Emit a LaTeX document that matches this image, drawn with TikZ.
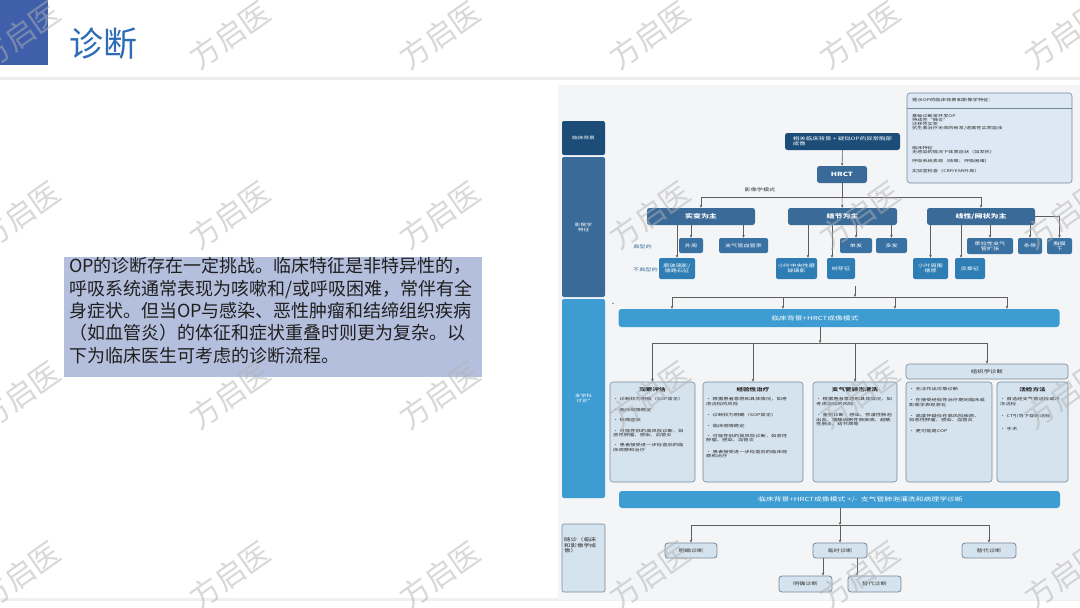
\documentclass[tikz,border=0pt]{standalone}
\usepackage{fontspec}
\setmainfont{Noto Sans CJK SC}
\newfontfamily\chartfont[FakeStretch=1.4]{Noto Sans CJK SC}
\usetikzlibrary{positioning,arrows.meta}

\definecolor{navy}{HTML}{1C4D78}
\definecolor{midblue}{HTML}{3A6B98}
\definecolor{kidblue}{HTML}{3A71A3}
\definecolor{atblue}{HTML}{2E7DB4}
\definecolor{skyblue}{HTML}{3D9CD2}
\definecolor{paleblue}{HTML}{D5E3EE}
\definecolor{infoblue}{HTML}{DCE9F4}
\definecolor{edgegray}{HTML}{76889A}
\definecolor{linegray}{HTML}{5E5E5E}
\definecolor{chartbg}{HTML}{F4F5F7}
\definecolor{notebg}{HTML}{B4BFDD}
\definecolor{titleblue}{HTML}{2E6DB5}
\definecolor{barblue}{HTML}{3F5FAA}
\definecolor{labelblue}{HTML}{3C6E9E}

\newcommand{\setfs}[2]{\fontsize{#1}{#2}\selectfont}

\begin{document}
\begin{tikzpicture}[
    x=1pt, y=-1pt,
    side/.style={rounded corners=2pt, minimum width=43, inner sep=1pt, text=white, align=center, font=\chartfont\setfs{4.1}{5}},
    head/.style={rounded corners=2.5pt, fill=midblue, text=white, inner sep=1pt, align=center, font=\chartfont\bfseries\setfs{5.7}{6.5}},
    kid/.style={rounded corners=2pt, fill=kidblue, text=white, inner sep=0.5pt, align=center, font=\chartfont\setfs{4.4}{5.2}},
    odd/.style={kid, fill=atblue},
    wide/.style={rounded corners=3pt, fill=skyblue, minimum width=441, minimum height=18, inner sep=0pt},
    card/.style={rounded corners=3pt, fill=paleblue, draw=edgegray, line width=0.6pt, inner sep=0pt},
    outc/.style={card, line width=0.8pt, text=black!80, font=\chartfont\setfs{4.4}{5}},
    ctitle/.style={font=\chartfont\bfseries\setfs{4.7}{5}, text=black!85, inner sep=0pt},
    bul/.style={font=\chartfont\setfs{3.8}{4.4}, text=black!85, align=left, anchor=north west, inner sep=0pt},
    tag/.style={font=\chartfont\setfs{4.4}{5}, text=labelblue, inner sep=0pt},
    arr/.style={-{Stealth[length=3pt,width=2.6pt]}, draw=linegray, line width=0.6pt},
    ln/.style={draw=linegray, line width=0.6pt},
    wmark/.style={rotate=35, text=black!30, opacity=0.5, font=\setfs{30}{30}}
]

  % --- SLIDE FRAME ---
  \fill[white] (0,0) rectangle (1080,608);
  \useasboundingbox (0,0) rectangle (1080,608);
  \fill[barblue] (0,0) rectangle (48,65);
  \fill[black!7] (0,77) rectangle (1080,80);
  \fill[black!6] (0,598) rectangle (1080,601);
  \node[font=\setfs{34}{34}, text=titleblue, anchor=west, inner sep=0pt] (ttl) at (69,44) {诊断};

  % --- NOTE ---
  \node[fill=notebg, minimum width=418, minimum height=120, inner sep=0pt] (note) at (273,317) {};
  \node[anchor=north west, align=left, inner sep=0pt, font=\setfs{18}{22.3}, text=black!88] (notetxt) at (69,257.5)
    {OP的诊断存在一定挑战。临床特征是非特异性的，\\呼吸系统通常表现为咳嗽和/或呼吸困难，常伴有全\\身症状。但当OP与感染、恶性肿瘤和结缔组织疾病\\（如血管炎）的体征和症状重叠时则更为复杂。以\\下为临床医生可考虑的诊断流程。};

  % --- CHART ---
  \fill[chartbg] (558,85) rectangle (1080,600);

  % side column
  \node[side, fill=navy, minimum height=34] (s1) at (583.5,138) {临床背景};
  \node[side, fill=midblue, minimum height=140] (s2) at (583.5,227) {影像学\\特征};
  \node[side, fill=skyblue, minimum height=199] (s3) at (583.5,398.5) {多学科\\讨论*};
  \node[side, fill=paleblue, draw=edgegray, line width=0.6pt, minimum height=68] (s4) at (583.5,558) {};
  \node[bul, font=\chartfont\setfs{4.6}{5.6}] (s4t) at (564,537.5) {随诊（临床\\和影像学成\\像）};

  % clinical context
  \node[rounded corners=2.5pt, fill=navy, text=white, minimum width=115, minimum height=17, inner sep=0pt, align=left, font=\chartfont\setfs{4.6}{5.4}] (bg) at (842.5,141.5) {相关临床背景 + 疑似OP的异常胸部\\成像};
  \node[head, minimum width=50, minimum height=17] (hrct) at (842,174.5) {HRCT};
  \draw[arr] (bg) -- (hrct);

  \node[card, fill=infoblue, minimum width=165, minimum height=90] (info) at (989.5,138) {};
  \coordinate (sep) at (0,108);
  \draw[edgegray, line width=0.5pt] (info.west |- sep) -- (info.east |- sep);
  \node[bul, font=\chartfont\setfs{3.8}{4.4}] (infohd) at (912,98.5) {提示OP的临床背景和影像学特征：};
  \node[bul, font=\chartfont\setfs{3.7}{4.1}] (infotx) at (912,114)
    {基础诊断常并发OP\\持续性“肺炎”\\迁移性实变\\抗生素治疗无效的新发/进展性实质混浊\\[15.5pt]
     临床特征\\无感染的情况下体质症状（如发热）\\[5.5pt]
     呼吸系统表现（咳嗽、呼吸困难）\\[5.5pt]
     实验室检查（CRP/ESR升高）};

  % imaging patterns
  \coordinate (j1) at (842,197);
  \node[head, minimum width=108, minimum height=17] (m1) at (701,216.5) {实变为主};
  \node[head, minimum width=109, minimum height=17] (m2) at (842.5,216.5) {结节为主};
  \node[head, minimum width=108, minimum height=17] (m3) at (981,216.5) {线性/网状为主};
  \node[tag, text=black!80] (modelbl) at (760,190) {影像学模式};
  \draw[ln] (hrct) -- (j1);
  \draw[arr] (j1) -| (m1);
  \draw[arr] (j1) -| (m3);
  \draw[arr] (j1) -- (m2);

  \node[tag, anchor=east] (typ) at (652,247) {典型的};
  \node[tag, anchor=east] (atyp) at (658,270) {不典型的};

  \node[kid, minimum width=24, minimum height=15] (c11) at (691,245.5) {外周};
  \node[kid, minimum width=49, minimum height=15] (c12) at (743.5,245.5) {支气管血管束};
  \node[odd, minimum width=36, minimum height=21] (a11) at (677,268.5) {磨玻璃影/\\铺路石征};
  \node[odd, minimum width=41, minimum height=21] (a21) at (796.5,268.5) {小叶中央性磨\\玻璃影};
  \node[odd, minimum width=28, minimum height=21] (a22) at (841,268.5) {树芽征};
  \node[kid, minimum width=32, minimum height=15] (c21) at (856,245.5) {单发};
  \node[kid, minimum width=31, minimum height=15] (c22) at (891.5,245.5) {多发};
  \node[odd, minimum width=35, minimum height=21] (a31) at (930.5,268.5) {小叶周围\\增厚};
  \node[odd, minimum width=30, minimum height=21] (a32) at (970,268.5) {反晕征};
  \node[kid, minimum width=46, minimum height=16] (c31) at (990,246) {牵拉性支气\\管扩张};
  \node[kid, minimum width=24, minimum height=16] (c32) at (1030,246) {条带};
  \node[kid, minimum width=25, minimum height=16] (c33) at (1059.5,246) {胸膜\\下};

  \draw[arr] (a11.north |- m1.south) -- (a11);
  \draw[arr] (c11.north |- m1.south) -- (c11);
  \draw[arr] (c12.north |- m1.south) -- (c12);
  \draw[arr] ([xshift=11.5]a21.north |- m2.south) -- ([xshift=11.5]a21.north);
  \draw[arr] ([xshift=-9]a22.north |- m2.south) -- ([xshift=-9]a22.north);
  \draw[arr] (c21.north |- m2.south) -- (c21);
  \draw[arr] (c22.north |- m2.south) -- (c22);
  \draw[arr] (a31.north |- m3.south) -- (a31);
  \draw[arr] ([xshift=-9]a32.north |- m3.south) -- ([xshift=-9]a32.north);
  \draw[arr] (c31.north |- m3.south) -- (c31);
  \draw[arr] (c32.north |- m3.south) -- (c32);
  \draw[arr] (m3.east) -| (c33);

  % multidisciplinary discussion
  \node[wide, label={[text=white, font=\chartfont\setfs{5.6}{6}, xshift=-24]center:临床背景+HRCT成像模式}] (b1) at (839,318) {};
  \node[tag, text=black!70] (ast) at (613,305) {*};
  \coordinate (j2top) at (855,286);
  \coordinate (j2) at (855,297);
  \draw[arr] (j2top) -- (j2);
  \foreach \k/\ax in {k1/672,k2/783,k3/895,k4/1007} {
    \coordinate (\k) at (\ax,297);
    \draw[arr] (\k) -- (\k |- b1.north);
  }
  \draw[ln] (k1) -- (k4);

  \coordinate (j3) at (820,343);
  \draw[arr] (b1.south -| j3) -- (j3);

  \node[card, minimum width=85, minimum height=100] (d1) at (652.5,432) {};
  \node[card, minimum width=100, minimum height=100] (d2) at (753,432) {};
  \node[card, minimum width=84, minimum height=100] (d3) at (855,432) {};
  \node[card, minimum width=162, minimum height=15, font=\chartfont\setfs{4.6}{5}, text=black!85] (h0) at (987,371.5) {组织学诊断};
  \node[card, minimum width=86, minimum height=100] (d4) at (949,432) {};
  \node[card, minimum width=71, minimum height=100] (d5) at (1032.5,432) {};

  \draw[ln] (d1.north |- j3) -- (h0.north |- j3);
  \draw[arr] (d1.north |- j3) -- (d1);
  \draw[arr] (d2.north |- j3) -- (d2);
  \draw[arr] (d3.north |- j3) -- (d3);
  \draw[arr] (h0.north |- j3) -- (h0);

  \node[ctitle] (d1h) at ([yshift=-8]d1.north) {观察评估};
  \node[bul] (d1t) at (613,397.5)
    {• 诊断较为明确（SOP常见）\\[6pt]
     • 临床病情稳定\\[6pt]
     • 轻微症状\\[6pt]
     • 可能性低的高风险诊断，如\\恶性肿瘤、感染、血管炎\\[6pt]
     • 患者接受进一步检查后的临\\床观察和治疗};

  \node[ctitle] (d2h) at ([yshift=-8]d2.north) {经验性治疗};
  \node[bul] (d2t) at (706,397.5)
    {• 根据患者意愿和具体情况，如考\\虑活检的风险\\[7pt]
     • 诊断较为明确（SOP常见）\\[6pt]
     • 临床病情稳定\\[6pt]
     • 可能性低的高风险诊断，如恶性\\肿瘤、感染、血管炎\\[7pt]
     • 患者接受进一步检查后的临床观\\察和治疗};

  \node[ctitle] (d3h) at ([yshift=-8]d3.north) {支气管肺泡灌洗};
  \node[bul] (d3t) at (816,397.5)
    {• 根据患者意愿和具体情况，如\\考虑活检的风险\\[7pt]
     • 鉴别诊断：感染、弥漫性肺泡\\出血、嗜酸细胞性肺疾病、超敏\\性肺炎、结节病等};

  \node[bul] (d4t) at (909,387.5)
    {• 无法作出可靠诊断\\[6.5pt]
     • 在接受经验性治疗期间临床或\\影像学表现恶化\\[6.5pt]
     • 高度怀疑存在高风险疾病，\\如恶性肿瘤、感染、血管炎\\[6.5pt]
     • 更可能是COP};

  \node[ctitle] (d5h) at ([yshift=-8]d5.north) {活检方法};
  \node[bul] (d5t) at (1000,397.5)
    {• 首选经支气管活检或冷\\冻活检\\[8pt]
     • CT引导下穿刺活检\\[8pt]
     • 手术};

  % follow-up
  \node[wide, minimum height=17, label={[text=white, font=\chartfont\setfs{5.6}{6}, xshift=21]center:临床背景+HRCT成像模式 +/-\ \ 支气管肺泡灌洗和病理学诊断}] (b2) at (839.5,499.5) {};
  \coordinate (j4) at (840,525);
  \draw[arr] (b2.south -| j4) -- (j4);

  \node[outc, minimum width=52, minimum height=15] (e1) at (691,550.5) {明确诊断};
  \node[outc, minimum width=54, minimum height=15] (e2) at (840,550.5) {临时诊断};
  \node[outc, minimum width=54, minimum height=15] (e3) at (989,550.5) {替代诊断};
  \draw[ln] (e1 |- j4) -- (e3 |- j4);
  \draw[arr] (e1 |- j4) -- (e1);
  \draw[arr] (j4) -- (e2);
  \draw[arr] (e3 |- j4) -- (e3);

  \node[outc, minimum width=53, minimum height=16] (f1) at (805.5,584) {明确诊断};
  \node[outc, minimum width=53, minimum height=16] (f2) at (874.5,584) {替代诊断};
  \draw[arr] ([xshift=17.5]f1.north |- e2.south) -- ([xshift=17.5]f1.north);
  \draw[arr] ([xshift=-17.5]f2.north |- e2.south) -- ([xshift=-17.5]f2.north);

  % --- WATERMARK ---
  \foreach \wx in {20,230,440,650,860,1065}
    \foreach \wy in {35,215,395,575}
      \node[wmark] at (\wx,\wy) {方启医};
\end{tikzpicture}
\end{document}
